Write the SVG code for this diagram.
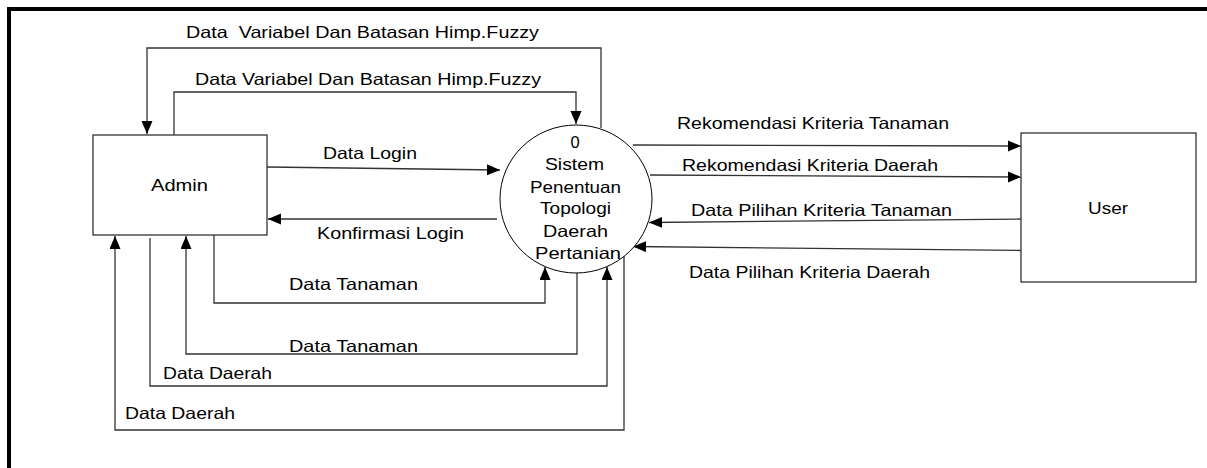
<svg xmlns="http://www.w3.org/2000/svg" width="1207" height="468" viewBox="0 0 1207 468">
<style>
text{font-family:"Liberation Sans",Arial,sans-serif;font-size:16.5px;fill:#000}
.box{fill:#fff;stroke:#333;stroke-width:1.3}
.proc{fill:#fff;stroke:#000;stroke-width:1}
.flow{fill:none;stroke:#333;stroke-width:1.3}
.frame{fill:none;stroke:#000;stroke-width:4}
</style>
<defs>
<marker id="ah" markerUnits="userSpaceOnUse" markerWidth="14" markerHeight="12" refX="13" refY="5.5" orient="auto">
<path d="M0,0 L13,5.5 L0,11 z" fill="#000"/>
</marker>
</defs>
<rect width="1207" height="468" fill="#fff"/>
<path class="frame" d="M9,468 V9 H1207"/>
<g id="connectors">
<path class="flow" d="M601,128 V48 H147 V134" marker-end="url(#ah)"/>
<path class="flow" d="M174,135 V92 H576 V124" marker-end="url(#ah)"/>
<path class="flow" d="M267,167 L500,170" marker-end="url(#ah)"/>
<path class="flow" d="M497,219 H268" marker-end="url(#ah)"/>
<path class="flow" d="M214,235 V303 H545 V267" marker-end="url(#ah)"/>
<path class="flow" d="M577,272 V354 H186 V236" marker-end="url(#ah)"/>
<path class="flow" d="M150,238 V386 H607 V267" marker-end="url(#ah)"/>
<path class="flow" d="M624,256 V430 H115 V236" marker-end="url(#ah)"/>
<path class="flow" d="M633,145 L1021,146" marker-end="url(#ah)"/>
<path class="flow" d="M650,175 L1021,177" marker-end="url(#ah)"/>
<path class="flow" d="M1021,219 L649,222.5" marker-end="url(#ah)"/>
<path class="flow" d="M1021,250.5 L633,246.5" marker-end="url(#ah)"/>
<text x="186" y="38" textLength="353" lengthAdjust="spacingAndGlyphs" xml:space="preserve">Data  Variabel Dan Batasan Himp.Fuzzy</text>
<text x="195" y="85" textLength="346" lengthAdjust="spacingAndGlyphs">Data Variabel Dan Batasan Himp.Fuzzy</text>
<text x="323" y="159" textLength="94" lengthAdjust="spacingAndGlyphs">Data Login</text>
<text x="317" y="239" textLength="147" lengthAdjust="spacingAndGlyphs">Konfirmasi Login</text>
<text x="289" y="290" textLength="129" lengthAdjust="spacingAndGlyphs">Data Tanaman</text>
<text x="289" y="352" textLength="129" lengthAdjust="spacingAndGlyphs">Data Tanaman</text>
<text x="163" y="379" textLength="109" lengthAdjust="spacingAndGlyphs">Data Daerah</text>
<text x="125" y="419" textLength="110" lengthAdjust="spacingAndGlyphs">Data Daerah</text>
<text x="677" y="129" textLength="272" lengthAdjust="spacingAndGlyphs">Rekomendasi Kriteria Tanaman</text>
<text x="682" y="171" textLength="256" lengthAdjust="spacingAndGlyphs">Rekomendasi Kriteria Daerah</text>
<text x="691" y="216" textLength="261" lengthAdjust="spacingAndGlyphs">Data Pilihan Kriteria Tanaman</text>
<text x="689" y="278" textLength="241" lengthAdjust="spacingAndGlyphs">Data Pilihan Kriteria Daerah</text>
</g>
<g id="admin">
<rect class="box" x="93" y="135" width="174" height="100"/>
<text x="151" y="191" textLength="57" lengthAdjust="spacingAndGlyphs">Admin</text>
</g>
<g id="user">
<rect class="box" x="1021" y="133" width="175" height="149"/>
<text x="1088" y="214" textLength="40" lengthAdjust="spacingAndGlyphs">User</text>
</g>
<g id="process">
<ellipse class="proc" cx="576" cy="199" rx="76" ry="74"/>
<text x="575" y="148" text-anchor="middle">0</text>
<text x="545" y="170" textLength="59" lengthAdjust="spacingAndGlyphs">Sistem</text>
<text x="530" y="193" textLength="91" lengthAdjust="spacingAndGlyphs">Penentuan</text>
<text x="540" y="214" textLength="71" lengthAdjust="spacingAndGlyphs">Topologi</text>
<text x="543" y="237" textLength="65" lengthAdjust="spacingAndGlyphs">Daerah</text>
<text x="535" y="259" textLength="86" lengthAdjust="spacingAndGlyphs">Pertanian</text>
</g>
</svg>
